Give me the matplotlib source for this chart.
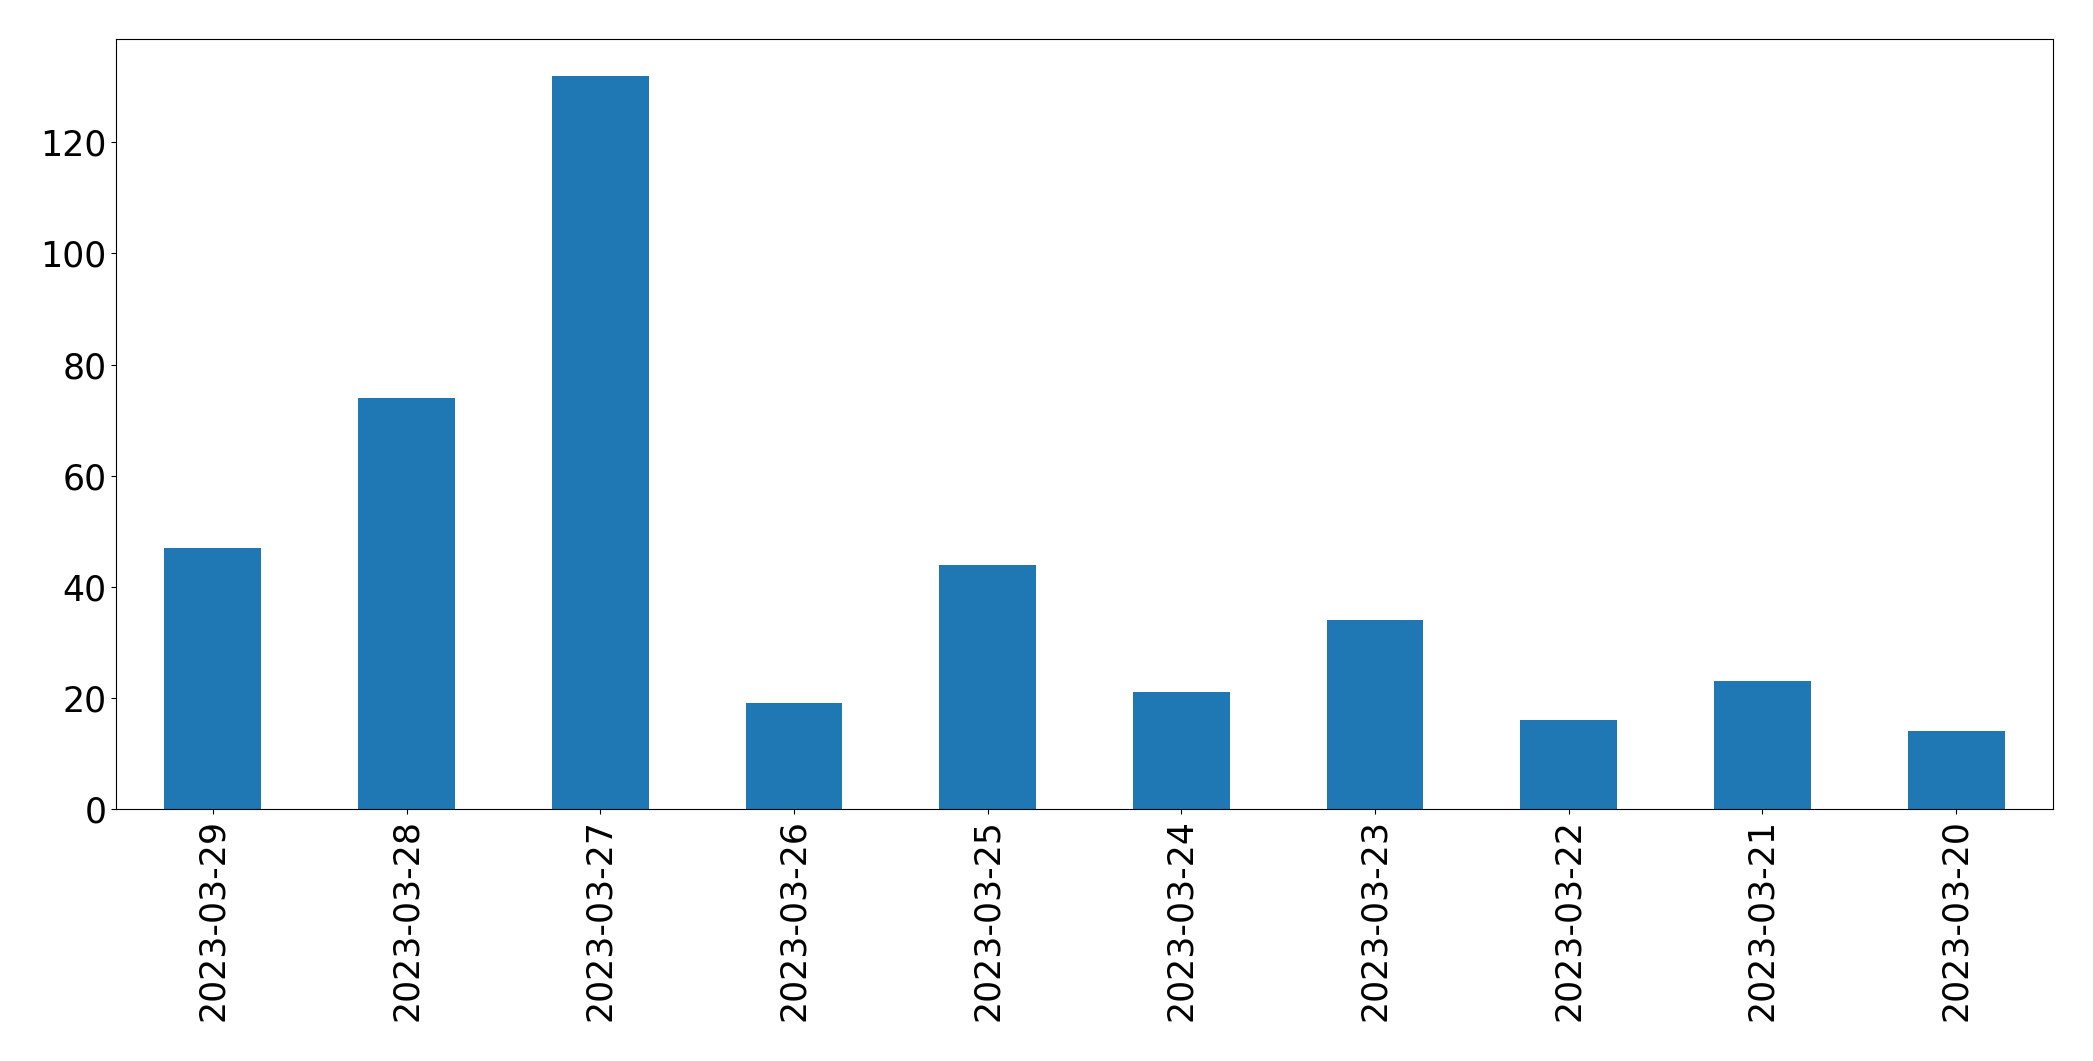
import pandas as pd
import matplotlib
matplotlib.use("Agg")
import matplotlib.pyplot as plt

dates = ["2023-03-29", "2023-03-28", "2023-03-27", "2023-03-26", "2023-03-25",
         "2023-03-24", "2023-03-23", "2023-03-22", "2023-03-21", "2023-03-20"]
counts = [47, 74, 132, 19, 44, 21, 34, 16, 23, 14]

s = pd.Series(counts, index=dates)

fig = plt.figure(figsize=(20.93, 10.61), dpi=100)
ax = fig.add_axes([116 / 2093, 1 - 809 / 1061, (2053 - 116) / 2093, (809 - 39) / 1061])
s.plot(kind="bar", ax=ax, fontsize=25)

fig.savefig("out.png", dpi=100)
